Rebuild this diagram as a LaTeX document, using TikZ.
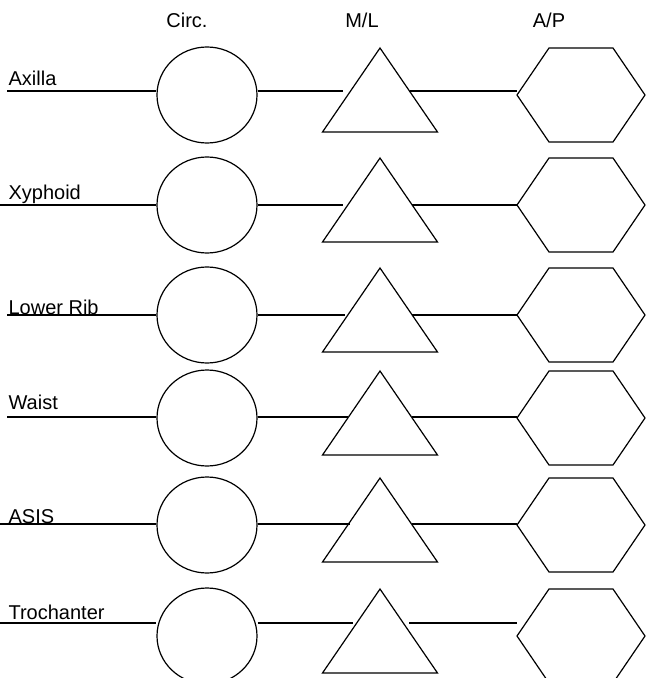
\documentclass[tikz,border=0pt]{standalone}
\usepackage{fontspec}
\setmainfont{Liberation Sans}
\usetikzlibrary{calc,shapes.geometric}

\tikzset{
  rowlabel/.style={anchor=base west, inner sep=0pt, font=\fontsize{15}{18}\selectfont},
  colhead/.style={anchor=base, inner sep=0pt, font=\fontsize{15}{18}\selectfont},
  circshape/.style={draw, ellipse, minimum width=75pt, minimum height=72pt, inner sep=0pt},
}

\begin{document}
\begin{tikzpicture}[x=0.75pt, y=-0.75pt, line width=0.9pt]
  \useasboundingbox (0,0) rectangle (653,678);
  % column heads
  \node[colhead] (hcirc) at (187,27) {Circ.};
  \node[colhead] (hml) at (362,27) {M/L};
  \node[colhead] (hap) at (549,27) {A/P};
  % one row per level
  \foreach \i/\lbl/\cy/\ly/\lb/\lx/\te/\ts in {1/Axilla/95/91/85/7/343/410, 2/Xyphoid/205/205/199/0/343/412, 3/Lower Rib/315/315/314/7/345/412, 4/Waist/418/417/409/7/348/412, 5/ASIS/525/524/523/0/350/412, 6/Trochanter/636/623/619/0/353/409}{
    \node[rowlabel] (l\i) at (8,\lb) {\lbl};
    \node[circshape] (c\i) at (207,\cy) {};
    \draw (380,\cy-47) -- (437.5,\cy+37) -- (322.5,\cy+37) -- cycle;
    \draw (517,\cy) -- (549,\cy-47) -- (613,\cy-47) -- (645,\cy) -- (613,\cy+47) -- (549,\cy+47) -- cycle;
    \coordinate (h\i) at (517,\cy);
    \coordinate (s\i) at (\lx,\ly);
    \coordinate (a\i) at (\te,\ly);
    \coordinate (b\i) at (\ts,\ly);
    \draw (s\i) -- (s\i -| c\i.west);
    \draw (s\i -| c\i.east) -- (a\i);
    \draw (b\i) -- (b\i -| h\i);
  }
\end{tikzpicture}
\end{document}
